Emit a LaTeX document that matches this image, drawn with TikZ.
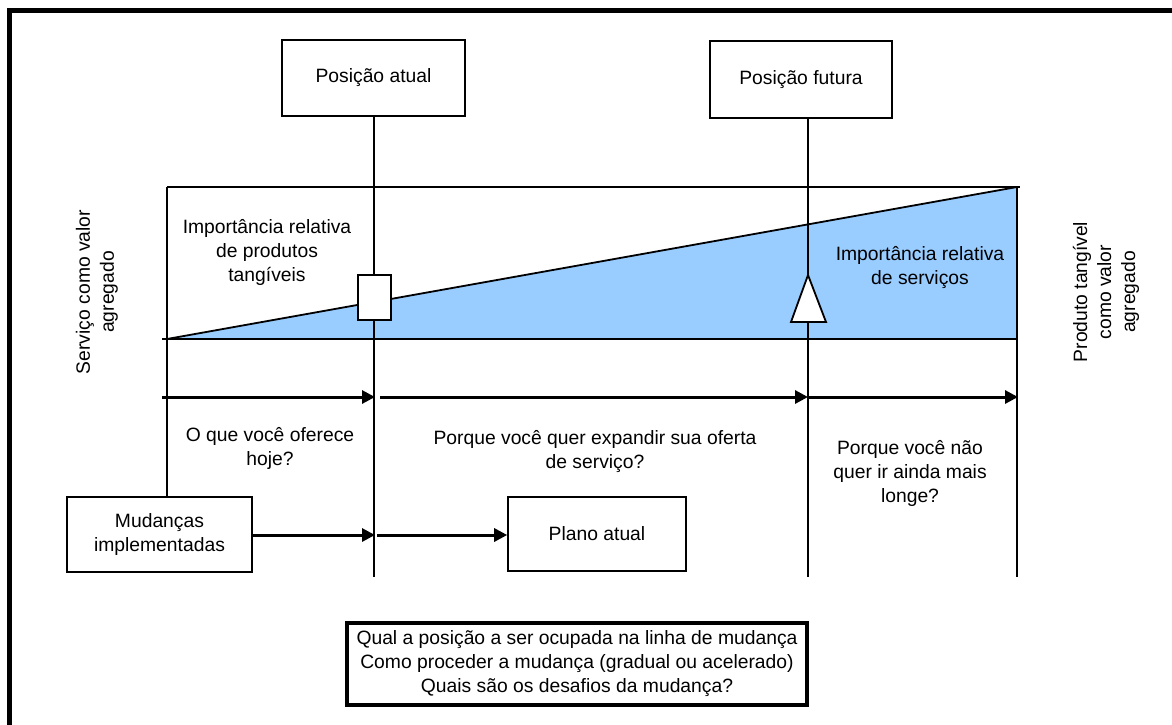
\documentclass[tikz,border=0pt]{standalone}
\usepackage{fontspec}
\setmainfont{Liberation Sans}
\usetikzlibrary{arrows.meta}
\definecolor{areablue}{RGB}{153,204,255}
\newcommand\lblfont{\fontsize{19.3}{24}\selectfont}

\begin{document}
\begin{tikzpicture}[x=1pt,y=-1pt,
  box/.style={draw,line width=1.6pt,fill=white,inner sep=0pt,align=center,font=\lblfont},
  txt/.style={inner sep=0pt,align=center,font=\lblfont},
  guide/.style={line width=1.8pt},
  flow/.style={line width=3pt,-{Triangle[length=13pt,width=13pt]}},
  marker/.style={draw,line width=1.8pt,fill=white}]

\useasboundingbox (0,0) rectangle (1172,724);

% frame (left and top edges)
\draw[line width=5pt] (9.5,740) -- (9.5,10.5) -- (1190,10.5);

% shaded share of services
\fill[areablue] (167,339) -- (1016,187) -- (1016,339) -- cycle;

% position boxes
\node[box,minimum width=183pt,minimum height=76pt] (pa) at (373.5,78) {Posição atual};
\node[box,minimum width=182pt,minimum height=77pt] (pf) at (801,79.5) {Posição futura};

% lower boxes
\node[box,minimum width=185pt,minimum height=75pt] (mud) at (159.5,534.5) {Mudanças\\implementadas};
\node[box,minimum width=178pt,minimum height=74pt] (plano) at (597,534) {Plano atual};
\node[box,line width=3.5pt,minimum width=460pt,minimum height=82pt] (quest) at (577,664)
  {Qual a posição a ser ocupada na linha de mudança\\Como proceder a mudança (gradual ou acelerado)\\Quais são os desafios da mudança?};

% guide coordinates
\coordinate (tl) at (167,187);
\coordinate (tr) at (1020,187);
\coordinate (bl) at (162,339);
\coordinate (o) at (167,339);
\coordinate (br) at (1017,339);
\coordinate (rt) at (1017,187);
\coordinate (rb) at (1017,577);
\coordinate (lb) at (167,497);
\coordinate (paend) at (374,577);
\coordinate (pfend) at (808,577);

% frame of the chart
\draw[guide] (tl) -- (tr);
\draw[guide] (tl) -- (lb);
\draw[guide] (bl) -- (br);
\draw[guide] (rt) -- (rb);
\draw[guide] (o) -- (rt);

% vertical position lines
\draw[guide] (pa.south -| paend) -- (paend);
\draw[guide] (pf.south -| pfend) -- (pfend);

% position markers
\node[marker,minimum width=33pt,minimum height=45pt,inner sep=0pt] (sq) at (374.5,297.5) {};
\draw[marker] (808,275) -- (826,322) -- (791,322) -- cycle;

% horizontal flow arrows
\coordinate (a0) at (162,397);
\coordinate (a1) at (375,397);
\coordinate (a2) at (380,397);
\coordinate (a3) at (808,397);
\coordinate (a4) at (1018,397);
\draw[flow] (a0) -- (a1);
\draw[flow] (a2) -- (a3);
\draw[flow] (a3) -- (a4);

\coordinate (m1) at (375,535);
\coordinate (m2) at (377,535);
\draw[flow] (mud.east |- m1) -- (m1);
\draw[flow] (m2) -- (plano.west |- m2);

% labels
\node[txt] (imp1) at (267,252) {Importância relativa\\de produtos\\tangíveis};
\node[txt] (imp2) at (920,268) {Importância relativa\\de serviços};
\node[txt,rotate=90] (lv) at (97,292) {Serviço como valor\\agregado};
\node[txt,rotate=90] (rv) at (1106,292) {Produto tangível\\como valor\\agregado};
\node[txt] (q1) at (270,448) {O que você oferece\\hoje?};
\node[txt] (q2) at (595,452) {Porque você quer expandir sua oferta\\de serviço?};
\node[txt] (q3) at (910,473) {Porque você não\\quer ir ainda mais\\longe?};

\end{tikzpicture}
\end{document}
